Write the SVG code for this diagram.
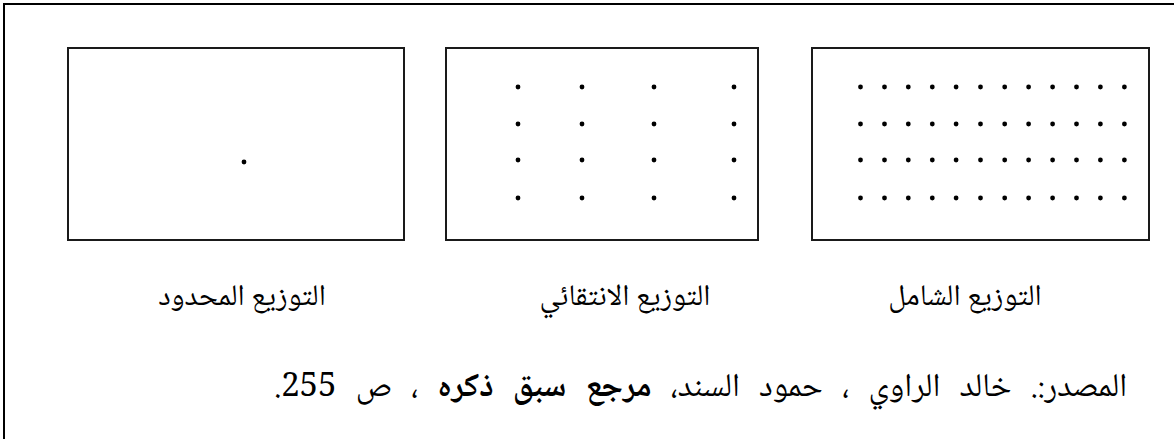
<svg xmlns="http://www.w3.org/2000/svg" width="1174" height="439" viewBox="0 0 1174 439">
<style>
.frame{fill:none;stroke:#000;stroke-width:2}
.box{fill:#fff;stroke:#1a1a1a;stroke-width:2}
.dot{fill:#000}
.lbl{font-family:"Noto Naskh Arabic","Amiri","Scheherazade New","Noto Serif Arabic","Liberation Serif","DejaVu Sans",serif;font-size:30px;fill:#000}
.src{font-size:33px;word-spacing:12px}
</style>
<rect width="1174" height="439" fill="#fff"/>
<path class="frame" d="M4,445 V4 H1180"/>
<g id="node-limited">
<rect class="box" x="68" y="48" width="336" height="192"/>
<circle class="dot" cx="244" cy="162" r="2.4"/>
<text class="lbl" x="242" y="305" text-anchor="middle" direction="rtl">التوزيع المحدود</text>
</g>
<g id="node-selective">
<rect class="box" x="446" y="48" width="312" height="192"/>
<g class="dot">
<circle cx="518" cy="87" r="2.4"/><circle cx="582" cy="87" r="2.4"/><circle cx="654" cy="87" r="2.4"/><circle cx="734" cy="87" r="2.4"/>
<circle cx="518" cy="124" r="2.4"/><circle cx="582" cy="124" r="2.4"/><circle cx="654" cy="124" r="2.4"/><circle cx="734" cy="124" r="2.4"/>
<circle cx="518" cy="160" r="2.4"/><circle cx="582" cy="160" r="2.4"/><circle cx="654" cy="160" r="2.4"/><circle cx="734" cy="160" r="2.4"/>
<circle cx="518" cy="198" r="2.4"/><circle cx="582" cy="198" r="2.4"/><circle cx="654" cy="198" r="2.4"/><circle cx="734" cy="198" r="2.4"/>
</g>
<text class="lbl" x="625" y="305" text-anchor="middle" direction="rtl">التوزيع الانتقائي</text>
</g>
<g id="node-comprehensive">
<rect class="box" x="812" y="48" width="337" height="192"/>
<g class="dot" id="grid">
<g id="row1">
<circle cx="860.5" cy="87" r="2.4"/><circle cx="884.5" cy="87" r="2.4"/><circle cx="908.3" cy="87" r="2.4"/><circle cx="932.3" cy="87" r="2.4"/><circle cx="956.1" cy="87" r="2.4"/><circle cx="980.5" cy="87" r="2.4"/><circle cx="1004.7" cy="87" r="2.4"/><circle cx="1028.6" cy="87" r="2.4"/><circle cx="1052.6" cy="87" r="2.4"/><circle cx="1076.5" cy="87" r="2.4"/><circle cx="1100.4" cy="87" r="2.4"/><circle cx="1124.4" cy="87" r="2.4"/>
</g>
<use href="#row1" y="37"/>
<use href="#row1" y="73"/>
<use href="#row1" y="111"/>
</g>
<text class="lbl" x="965" y="305" text-anchor="middle" direction="rtl">التوزيع الشامل</text>
</g>
<g id="source">
<text class="lbl src" x="1127" y="396" text-anchor="start" direction="rtl">المصدر:. خالد الراوي ، حمود السند، <tspan font-weight="bold">مرجع سبق ذكره</tspan> ، ص 255.</text>
</g>
<g id="connectors"/>
</svg>
